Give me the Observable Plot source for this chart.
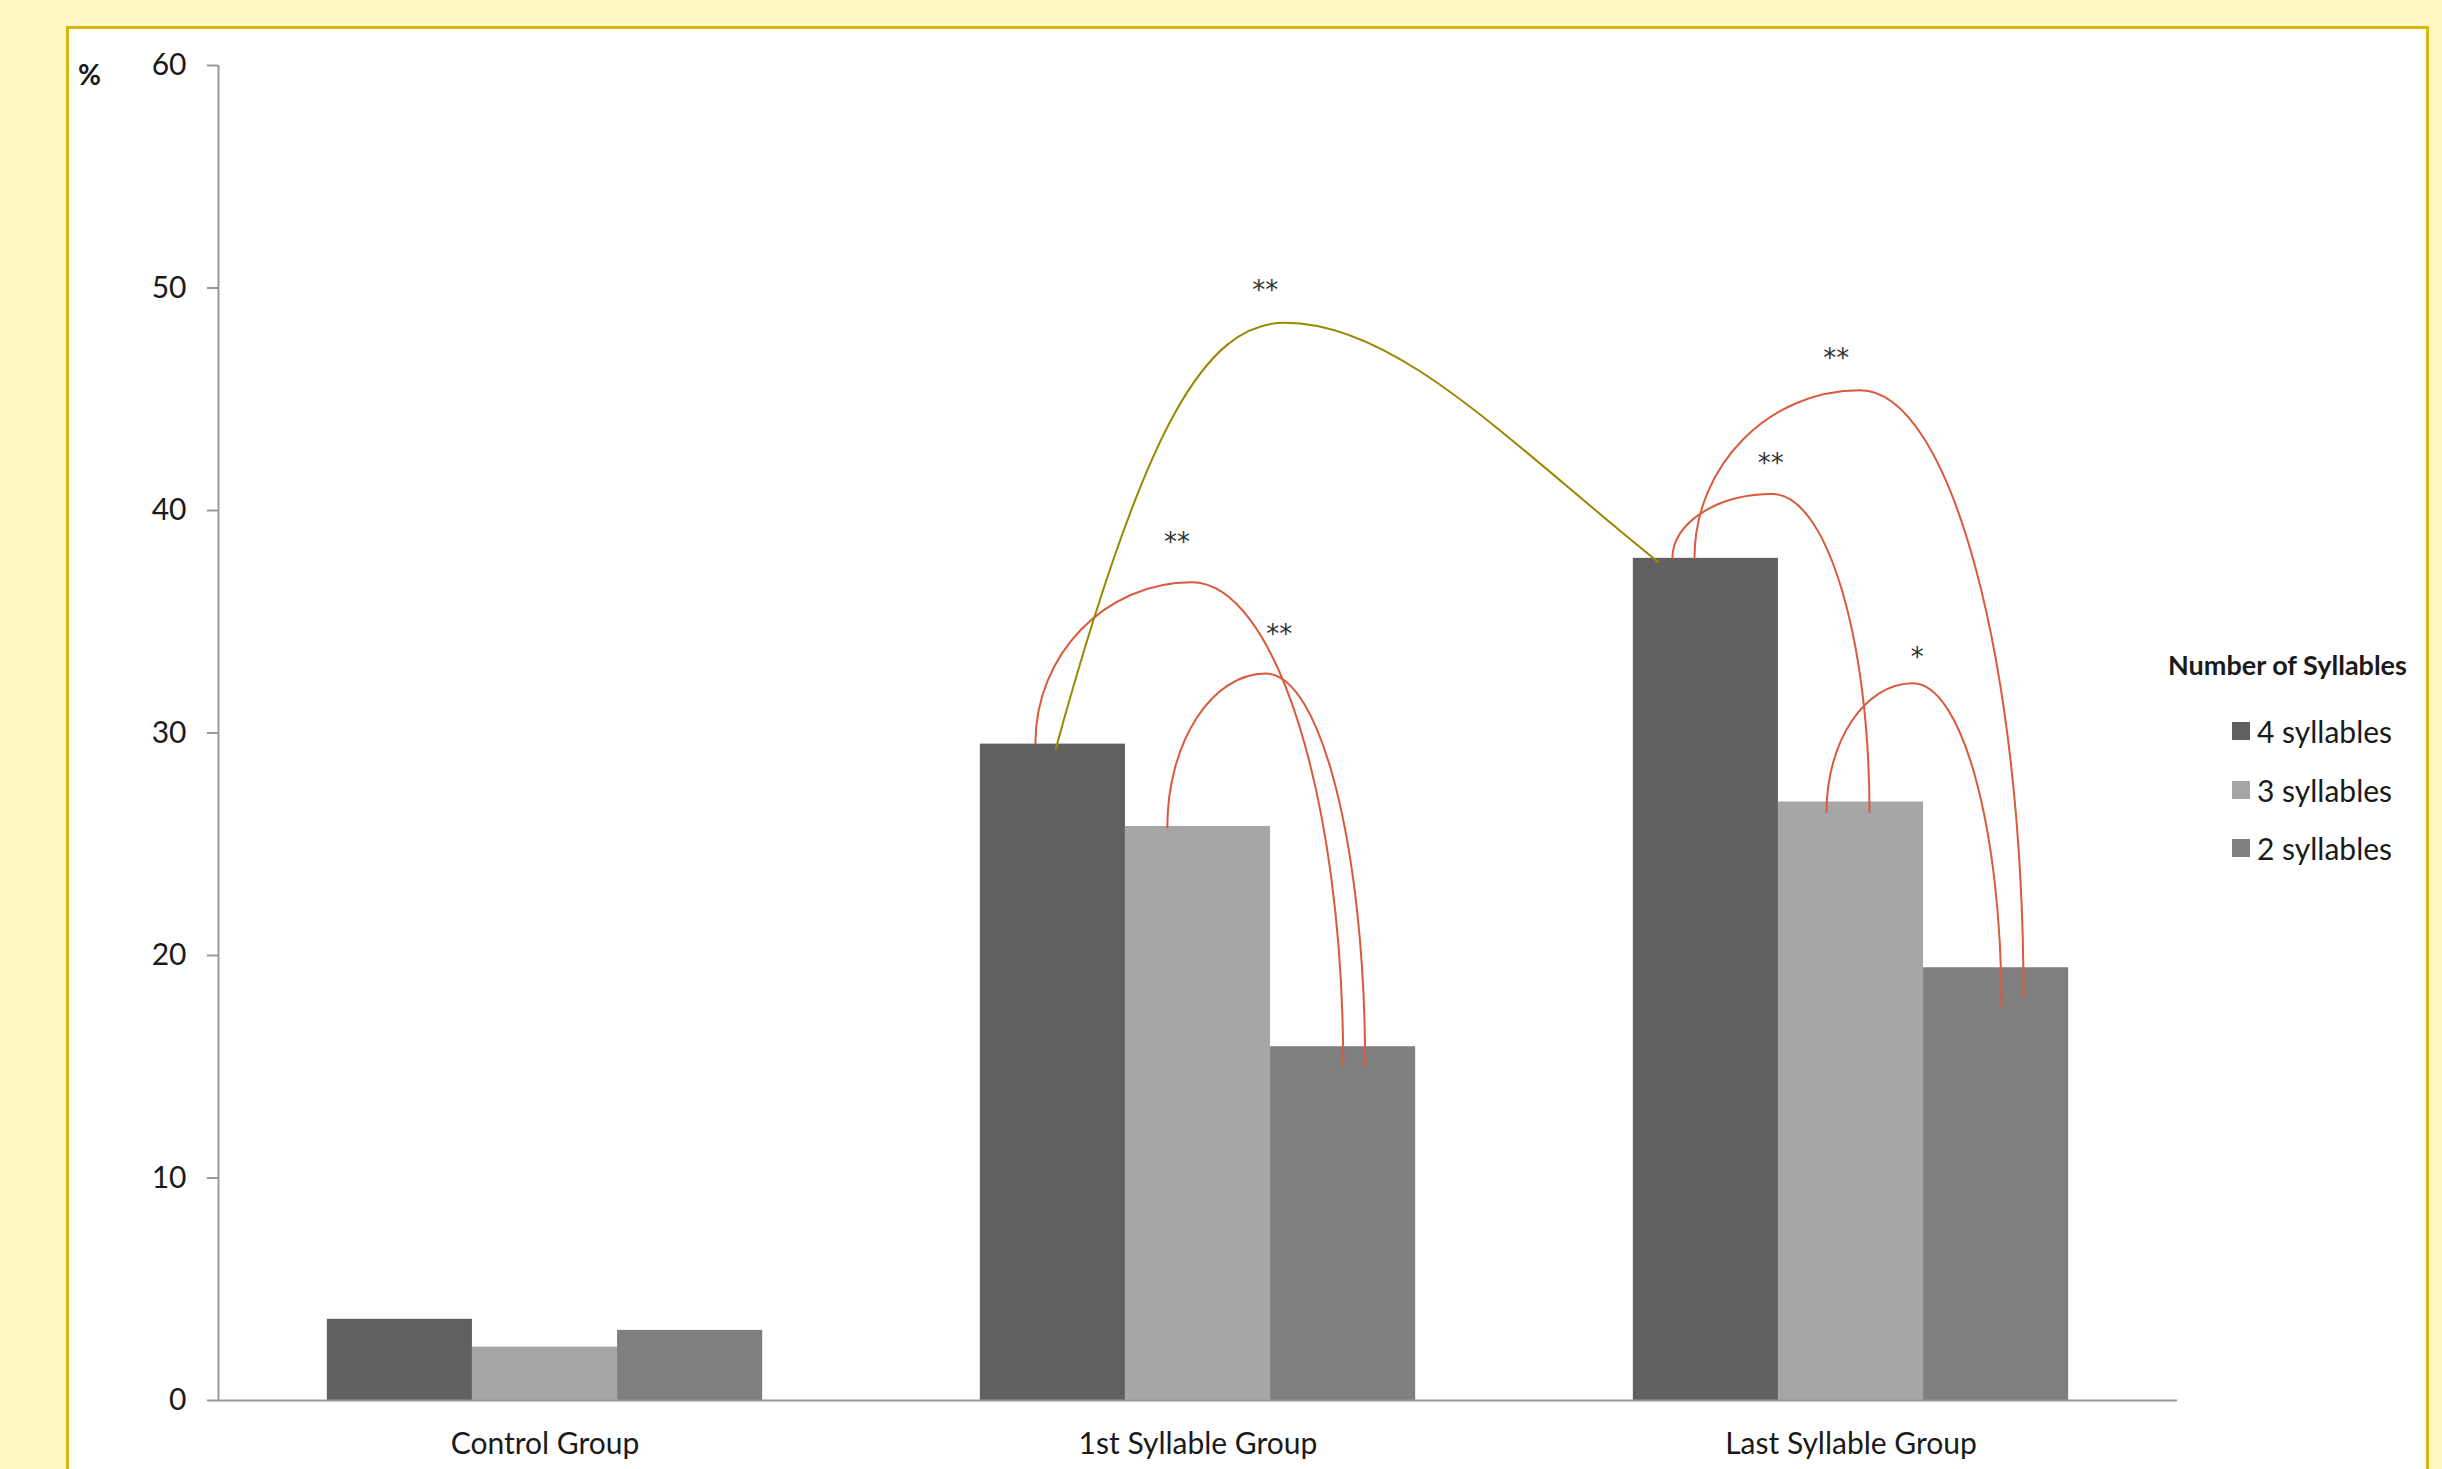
<!DOCTYPE html>
<html>
<head>
<meta charset="utf-8">
<script src="https://cdn.jsdelivr.net/npm/d3@7"></script>
<script src="https://cdn.jsdelivr.net/npm/@observablehq/plot@0.6"></script>
<style>
  html, body { margin: 0; padding: 0; width: 2442px; height: 1469px; overflow: hidden; background: #fff7c4; font-family: Lato, "Open Sans", sans-serif; }
  #panel { position: absolute; left: 66px; top: 26px; width: 2363px; height: 1500px; box-sizing: border-box; background: #ffffff; border: 3px solid #d6b80c; }
  #chart { position: absolute; left: 0; top: 0; }
  #pct { position: absolute; left: 78px; top: 57px; font-size: 28px; font-weight: bold; color: #1a1a1a; line-height: 34px; }
  .leg { position: absolute; color: #1a1a1a; white-space: nowrap; }
  .legTitle { font-weight: bold; font-size: 27px; line-height: 30px; }
  .legItem { display: flex; align-items: center; font-size: 30px; line-height: 32px; height: 32px; }
  .sw { width: 18px; height: 18px; margin-right: 7px; }
</style>
</head>
<body>
<div id="panel"></div>
<div id="chart"></div>
<div id="pct">%</div>
<div id="legend"></div>
<script>
// ---- data ----
const groups = ["Control Group", "1st Syllable Group", "Last Syllable Group"];
const seriesNames = ["4 syllables", "3 syllables", "2 syllables"];
const values4 = [3.65, 29.5, 37.85];
const values3 = [2.4, 25.8, 26.9];
const values2 = [3.15, 15.9, 19.45];
const seriesColors = ["#606060", "#a6a6a6", "#7f7f7f"];
const yTicks = [0, 10, 20, 30, 40, 50, 60];
const legendTitle = "Number of Syllables";

// significance arcs: start / peak / end in (group units, %)
const arcLabels = ["**", "**", "**", "**", "**", "*"];
const arcKinds  = ["olive", "red", "red", "red", "red", "red"];
const arcStart  = [[0.782, 29.27], [0.751, 29.54], [0.953, 25.75], [1.7265, 37.86], [1.7603, 37.86], [1.9625, 26.44]];
const arcPeak   = [[1.1334, 48.44], [0.99, 36.77], [1.104, 32.67], [1.8796, 40.74], [2.0139, 45.4], [2.0946, 32.24]];
const arcEnd    = [[1.705, 37.68], [1.2224, 15.02], [1.256, 15.02], [2.0283, 26.44], [2.2642, 18.1], [2.2305, 17.7]];
const arcLabelAt = [[1.1029, 50.2], [0.968, 38.85], [1.1246, 34.72], [1.877, 42.4], [1.9775, 47.12], [2.1016, 33.68]];

// ---- derived tables ----
const barW = 1 / 4.5; // Excel gap width 150%
const seriesValues = [values4, values3, values2];
const bars = [];
seriesNames.forEach((s, si) => {
  groups.forEach((g, gi) => {
    const c = gi + (si - 1) * barW;
    bars.push({group: g, series: s, value: seriesValues[si][gi], x1: c - barW / 2, x2: c + barW / 2});
  });
});

const arcPts = [];
arcLabels.forEach((lab, i) => {
  [arcStart[i], arcPeak[i], arcEnd[i]].forEach(p => arcPts.push({id: i, kind: arcKinds[i], u: p[0], v: p[1]}));
});
const arcText = arcLabels.map((lab, i) => ({label: lab, u: arcLabelAt[i][0], v: arcLabelAt[i][1]}));

// custom curve: two cubic segments (start -> peak -> end), horizontal tangent at peak
function arcCurve(s0, k0, k1, k2, s2, k3) {
  return (context) => {
    let pts = [];
    return {
      areaStart() {}, areaEnd() {},
      lineStart() { pts = []; },
      point(x, y) { pts.push([+x, +y]); },
      lineEnd() {
        if (pts.length < 3) return;
        const [[x0, y0], [x1, y1], [x2, y2]] = pts;
        const dx1 = x1 - x0, dy1 = y1 - y0;
        context.moveTo(x0, y0);
        context.bezierCurveTo(x0 + s0 * dx1, y0 + k0 * dy1, x1 - k1 * dx1, y1, x1, y1);
        const dx2 = x2 - x1, dy2 = y2 - y1;
        context.bezierCurveTo(x1 + k2 * dx2, y1, x2 - s2 * dx2, y2 - k3 * dy2, x2, y2);
      }
    };
  };
}
const K = 0.5523;

const plot = Plot.plot({
  width: 2442,
  height: 1469,
  marginLeft: 218,
  marginRight: 265,
  marginTop: 65,
  marginBottom: 69,
  style: {background: "transparent", fontFamily: "Lato, 'Open Sans', sans-serif", color: "#1a1a1a", overflow: "visible"},
  x: {type: "linear", domain: [-0.5, 2.5]},
  y: {domain: [0, 60]},
  color: {domain: seriesNames, range: seriesColors},
  marks: [
    Plot.rectY(bars, {x1: "x1", x2: "x2", y: "value", fill: "series"}),
    Plot.ruleY([0], {stroke: "#999999", strokeWidth: 2}),
    Plot.ruleX([-0.5], {y1: 0, y2: 60, stroke: "#999999", strokeWidth: 2}),
    Plot.axisY(yTicks, {tickSize: 11, tickPadding: 21, fontSize: 30, stroke: "#999999", strokeWidth: 2, fill: "#1a1a1a", label: null}),
    Plot.axisX([0, 1, 2], {tickFormat: i => groups[i], tickSize: 0, tickPadding: 32, fontSize: 30, fill: "#1a1a1a", label: null}),
    Plot.line(arcPts.filter(d => d.kind === "red"), {x: "u", y: "v", z: "id", stroke: "#da5a3d", strokeWidth: 2, curve: arcCurve(0, K, K, K, 0, K)}),
    Plot.line(arcPts.filter(d => d.kind === "olive"), {x: "u", y: "v", z: "id", stroke: "#9c8700", strokeWidth: 2, curve: arcCurve(0.383, 0.75, 0.35, 0.3, 0.4, 0.5)}),
    Plot.text(arcText, {x: "u", y: "v", text: "label", fontSize: 26, fontFamily: "DejaVu Sans", fill: "#333333", dy: 7})
  ]
});
document.getElementById("chart").appendChild(plot);

// legend (HTML, right side)
const legend = document.getElementById("legend");
const t = document.createElement("div");
t.className = "leg legTitle";
t.style.left = "2168px";
t.style.top = "650px";
t.textContent = legendTitle;
legend.appendChild(t);
const itemCenters = [731, 790, 848];
seriesNames.forEach((s, i) => {
  const row = document.createElement("div");
  row.className = "leg legItem";
  row.style.left = "2232px";
  row.style.top = (itemCenters[i] - 16) + "px";
  const sw = document.createElement("div");
  sw.className = "sw";
  sw.style.background = seriesColors[i];
  row.appendChild(sw);
  const tx = document.createElement("span");
  tx.textContent = s;
  row.appendChild(tx);
  legend.appendChild(row);
});
</script>
</body>
</html>
